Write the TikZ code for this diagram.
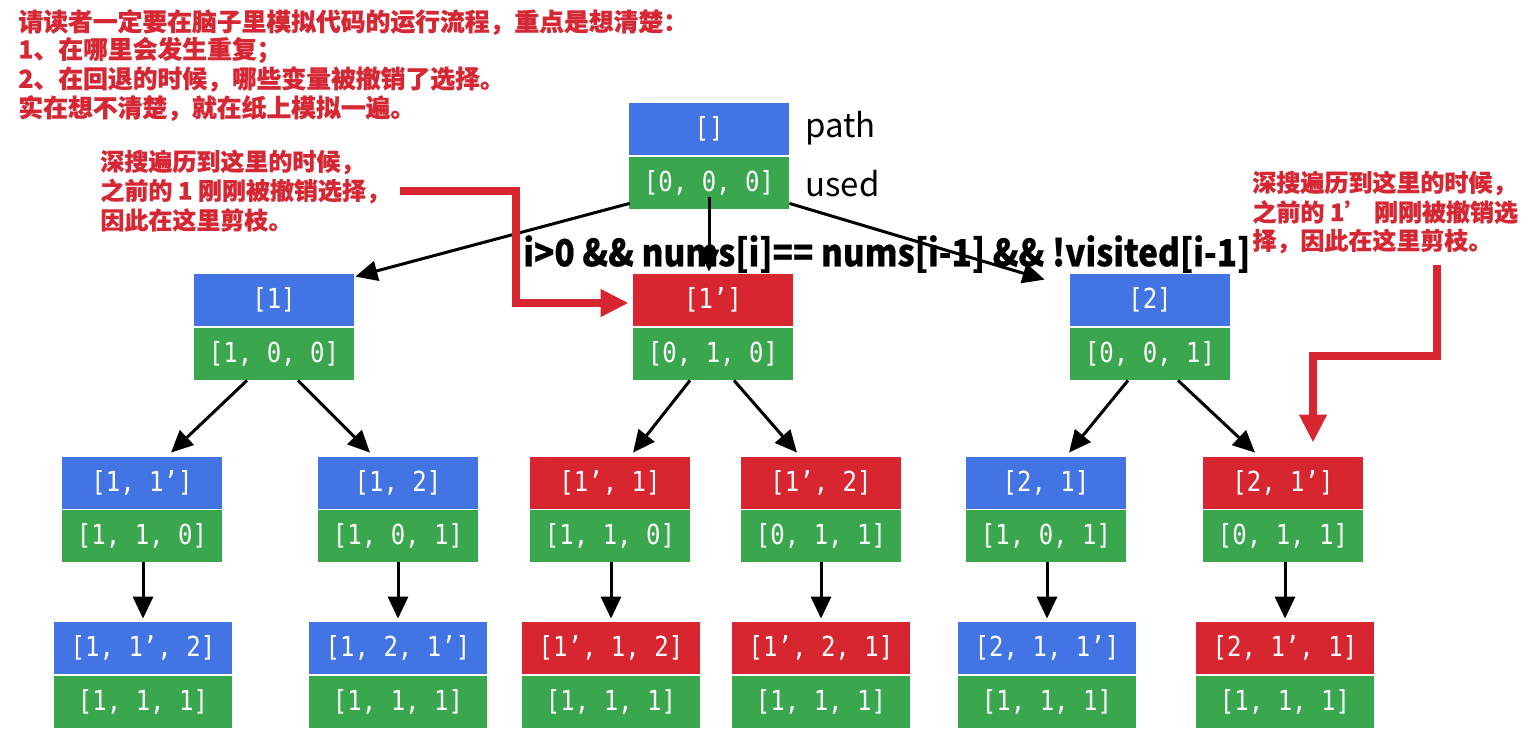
\documentclass[tikz,border=0pt]{standalone}
\usepackage{fontspec}
\usepackage{graphicx}
\newfontfamily\cjk{Noto Sans CJK SC}[BoldFeatures={FakeBold=0.6}]
\newfontfamily\mono{DejaVu Sans Mono}[FakeStretch=0.87]
\usetikzlibrary{arrows.meta,calc}
\definecolor{pblue}{RGB}{66,116,228}
\definecolor{ugreen}{RGB}{58,166,78}
\definecolor{rred}{RGB}{216,38,48}
\definecolor{tred}{RGB}{214,40,52}
\tikzset{
  box/.style={inner sep=0pt, minimum height=26pt, minimum width=80pt, text=white,
    font=\mono\fontsize{13.8}{14}\selectfont},
  wide/.style={minimum width=89pt},
  pb/.style={box, fill=pblue},
  ub/.style={box, fill=ugreen},
  rb/.style={box, fill=rred},
  arr/.style={-{Triangle[length=11pt,width=10pt]}, line width=1.5pt, draw=black},
  redarr/.style={-{Triangle[length=14pt,width=13pt]}, line width=4pt, draw=rred},
  note/.style={anchor=west, inner sep=0pt, text=tred, font=\cjk\bfseries\fontsize{12}{14}\selectfont},
  topnote/.style={note, font=\cjk\bfseries\fontsize{12.4}{14}\selectfont},
  lbl/.style={anchor=base west, inner sep=0pt, font=\cjk\fontsize{16.5}{18}\selectfont}
}
\begin{document}
\begin{tikzpicture}[x=0.5pt,y=-0.5pt]
\useasboundingbox[fill=white] (0,0) rectangle (1537,741);

% top-left notes
\node[topnote] (t1) at (18,22) {请读者一定要在脑子里模拟代码的运行流程，重点是想清楚：};
\node[topnote] (t2) at (18,50) {1、在哪里会发生重复；};
\node[topnote] (t3) at (18,79) {2、在回退的时候，哪些变量被撤销了选择。};
\node[topnote] (t4) at (18,108) {实在想不清楚，就在纸上模拟一遍。};

% left annotation
\node[note] (a1) at (100,162) {深搜遍历到这里的时候，};
\node[note] (a2) at (100,191) {之前的 1 刚刚被撤销选择，};
\node[note] (a3) at (100,220) {因此在这里剪枝。};

% right annotation
\node[note] (b1) at (1252,183) {深搜遍历到这里的时候，};
\node[note] (b2) at (1252,212) {之前的 1’ 刚刚被撤销选};
\node[note] (b3) at (1252,241) {择，因此在这里剪枝。};

% root
\node[pb] (p0) at (709,129) {[]};
\node[ub] (u0) at (709,183) {[0, 0, 0]};
\node[lbl] (lp) at (805,137) {path};
\node[lbl] (lu) at (805,196) {used};

% level 1
\node[pb] (p1) at (274,300) {[1]};
\node[ub] (u1) at (274,354) {[1, 0, 0]};
\node[rb] (p2) at (713,300) {[1’]};
\node[ub] (u2) at (713,354) {[0, 1, 0]};
\node[pb] (p3) at (1150,300) {[2]};
\node[ub] (u3) at (1150,354) {[0, 0, 1]};

% level 2
\node[pb] (p11) at (142,483) {[1, 1’]};
\node[ub] (u11) at (142,536) {[1, 1, 0]};
\node[pb] (p12) at (398,483) {[1, 2]};
\node[ub] (u12) at (398,536) {[1, 0, 1]};
\node[rb] (p21) at (610,483) {[1’, 1]};
\node[ub] (u21) at (610,536) {[1, 1, 0]};
\node[rb] (p22) at (821,483) {[1’, 2]};
\node[ub] (u22) at (821,536) {[0, 1, 1]};
\node[pb] (p31) at (1046,483) {[2, 1]};
\node[ub] (u31) at (1046,536) {[1, 0, 1]};
\node[rb] (p32) at (1283,483) {[2, 1’]};
\node[ub] (u32) at (1283,536) {[0, 1, 1]};

% level 3
\node[pb,wide] (q11) at (143,648) {[1, 1’, 2]};
\node[ub,wide] (v11) at (143,702) {[1, 1, 1]};
\node[pb,wide] (q12) at (398,648) {[1, 2, 1’]};
\node[ub,wide] (v12) at (398,702) {[1, 1, 1]};
\node[rb,wide] (q21) at (611,648) {[1’, 1, 2]};
\node[ub,wide] (v21) at (611,702) {[1, 1, 1]};
\node[rb,wide] (q22) at (821,648) {[1’, 2, 1]};
\node[ub,wide] (v22) at (821,702) {[1, 1, 1]};
\node[pb,wide] (q31) at (1047,648) {[2, 1, 1’]};
\node[ub,wide] (v31) at (1047,702) {[1, 1, 1]};
\node[rb,wide] (q32) at (1285,648) {[2, 1’, 1]};
\node[ub,wide] (v32) at (1285,702) {[1, 1, 1]};

% black arrows root -> level 1
\draw[arr] ($(u0.south west)+(1,-6)$) -- ($(p1.north east)+(1,3)$);
\draw[arr] ($(u0.south)+(0,-12)$) -- ($(p2.north)+(-4,-2)$);
\draw[arr] ($(u0.south east)+(0,-6)$) -- ($(p3.north west)+(-25,6)$);

% condition text
\node[anchor=west, inner sep=0pt, font=\cjk\bfseries] (cond) at (523,254)
  {\scalebox{1}[1.12]{\resizebox{363.5pt}{!}{i>0 \&\& nums[i]== nums[i-1] \&\& !visited[i-1]}}};

% level 1 -> level 2
\draw[arr] ($(u1.south)+(-27,0)$) -- ($(p11.north)+(29,-4)$);
\draw[arr] ($(u1.south)+(24,0)$) -- ($(p12.north)+(-28,-4)$);
\draw[arr] ($(u2.south)+(-23,0)$) -- ($(p21.north)+(23,-4)$);
\draw[arr] ($(u2.south)+(21,0)$) -- ($(p22.north)+(-24,-4)$);
\draw[arr] ($(u3.south)+(-22,0)$) -- ($(p31.north)+(23,-4)$);
\draw[arr] ($(u3.south)+(28,0)$) -- ($(p32.north)+(-28,-4)$);

% level 2 -> level 3
\foreach \a/\b in {u11/q11,u12/q12,u21/q21,u22/q22,u31/q31,u32/q32}{
  \draw[arr] (\a.south -| \b.north) -- ($(\b.north)+(0,-3)$);
}

% red arrows
\coordinate (ls) at (400,191);
\coordinate (lk) at (516,191);
\draw[redarr] (ls) -- (lk) |- ($(p2.west)+(-4,3)$);
\coordinate (rs) at (1437,265);
\coordinate (rk) at (1437,356);
\draw[redarr] (rs) -- (rk) -| ($(p32.north)+(30,-14)$);
\end{tikzpicture}
\end{document}
